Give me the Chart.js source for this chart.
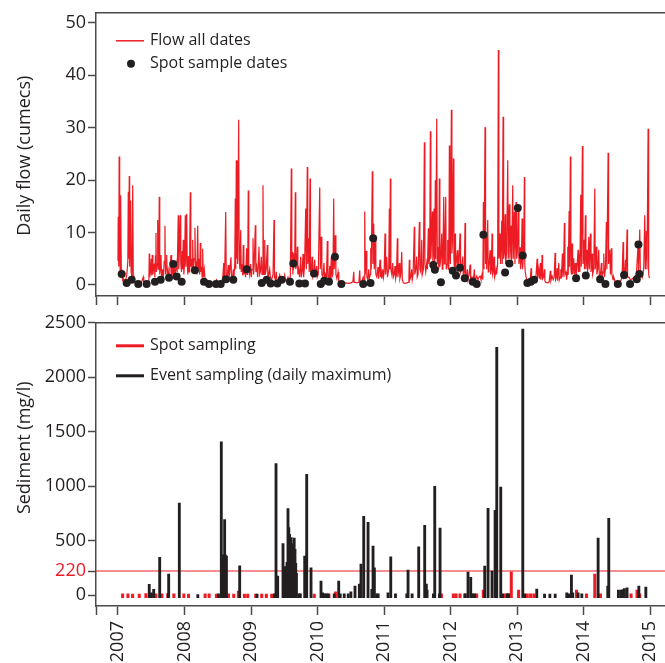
<!DOCTYPE html>
<html>
<head>
<meta charset="utf-8">
<script src="https://cdn.jsdelivr.net/npm/chart.js@4.4.1/dist/chart.umd.min.js"></script>
<style>
  html, body { margin: 0; padding: 0; background: #fff; }
  #wrap { position: relative; width: 665px; height: 663px; }
  canvas { position: absolute; left: 0; }
  #flowChart { top: 0; }
  #sedChart { top: 310px; }
</style>
</head>
<body>
<div id="wrap">
  <canvas id="flowChart" width="665" height="310"></canvas>
  <canvas id="sedChart" width="665" height="353"></canvas>
</div>
<script>
// ---- data ----
const yearTicks = [2007, 2008, 2009, 2010, 2011, 2012, 2013, 2014, 2015];
const flowTicks = [0, 10, 20, 30, 40, 50];
const sedimentTicks = [0, 220, 500, 1000, 1500, 2000, 2500];
const guideline = 220;

// daily flow (cumecs), [decimal year, flow]
const flowSeries = [
  [2007.000,4.6],[2007.004,13],[2007.012,3.5],[2007.018,24.5],[2007.026,8],[2007.033,2.5],[2007.041,17.1],[2007.050,3],
  [2007.058,1.8],[2007.070,0.9],[2007.085,1.2],[2007.100,0.8],[2007.118,1],[2007.135,2.2],[2007.148,4.5],[2007.155,17.8],
  [2007.160,5],[2007.170,20.8],[2007.176,3.5],[2007.184,10],[2007.191,16.1],[2007.198,2.5],[2007.210,1.5],[2007.222,19],
  [2007.230,1.8],[2007.240,0.8],[2007.260,0.5],[2007.290,0.4],[2007.320,0.3],[2007.350,0.4],[2007.380,1.5],[2007.388,0.4],
  [2007.420,0.3],[2007.455,0.6],[2007.465,1],[2007.470,6],[2007.477,1.5],[2007.490,2.5],[2007.500,5],[2007.508,1.8],
  [2007.515,5.7],[2007.525,2],[2007.535,3],[2007.546,4.1],[2007.555,1.5],[2007.563,5.5],[2007.571,9.9],[2007.578,2.5],
  [2007.587,4],[2007.597,12.4],[2007.605,3],[2007.613,6],[2007.621,16.8],[2007.628,2],[2007.638,3.5],[2007.646,5.7],
  [2007.655,1.5],[2007.668,3],[2007.680,1.2],[2007.695,4.5],[2007.706,11.3],[2007.714,2],[2007.722,3.5],[2007.732,5.7],
  [2007.742,1.5],[2007.755,2.8],[2007.768,1.4],[2007.780,3],[2007.797,5.7],[2007.806,1.8],[2007.815,2.5],[2007.822,4],
  [2007.832,1.5],[2007.845,3.5],[2007.860,2],[2007.875,4],[2007.890,2.5],[2007.906,13.3],[2007.913,3],[2007.922,6],
  [2007.936,13.3],[2007.944,4],[2007.955,2.5],[2007.965,6.5],[2007.972,3],[2007.981,8.6],[2007.990,2],[2008.000,4],
  [2008.012,13.3],[2008.020,3.5],[2008.033,13.6],[2008.041,4],[2008.050,2],[2008.060,5.5],[2008.070,2.5],[2008.078,7],
  [2008.087,17.7],[2008.095,3.5],[2008.105,5],[2008.115,2.5],[2008.123,8.6],[2008.132,3],[2008.145,5],[2008.157,10.9],
  [2008.165,3],[2008.175,4.5],[2008.185,2],[2008.198,11.3],[2008.207,3],[2008.218,5],[2008.228,2],[2008.237,8],
  [2008.246,2.5],[2008.255,3.5],[2008.265,1.5],[2008.273,6.9],[2008.282,1.5],[2008.297,3],[2008.310,0.8],[2008.330,0.4],
  [2008.360,0.3],[2008.400,0.4],[2008.430,0.3],[2008.460,0.5],[2008.480,1],[2008.500,0.3],[2008.530,0.4],[2008.560,0.6],
  [2008.575,1.5],[2008.589,4.2],[2008.597,1.2],[2008.605,3],[2008.619,13.9],[2008.627,2],[2008.640,1.5],[2008.658,3.8],
  [2008.668,1.2],[2008.680,2.5],[2008.698,5.3],[2008.706,1.5],[2008.718,1],[2008.733,3],[2008.742,1.2],[2008.755,4],
  [2008.763,16.5],[2008.770,3],[2008.778,23.8],[2008.786,5],[2008.790,23.7],[2008.798,4],[2008.814,31.5],[2008.822,5],
  [2008.832,3],[2008.844,10.5],[2008.852,2.5],[2008.865,4],[2008.875,1.8],[2008.883,7.6],[2008.892,2],[2008.905,3],
  [2008.918,1.5],[2008.934,7],[2008.942,2],[2008.950,4],[2008.958,18],[2008.966,3.5],[2008.980,2],[2008.994,4],
  [2009.004,1.5],[2009.015,3],[2009.029,8.9],[2009.038,2],[2009.048,4],[2009.064,11.4],[2009.072,2.5],[2009.085,3.5],
  [2009.100,1.5],[2009.119,7.3],[2009.128,2],[2009.140,2.5],[2009.154,5.4],[2009.165,2],[2009.179,19],[2009.187,3.5],
  [2009.195,2],[2009.205,8.6],[2009.214,2],[2009.228,3],[2009.244,7.6],[2009.252,1.5],[2009.265,2],[2009.280,3],
  [2009.290,1.5],[2009.310,1],[2009.330,2],[2009.345,12.4],[2009.352,1.5],[2009.365,1],[2009.379,2.5],[2009.390,0.8],
  [2009.410,1],[2009.430,1.9],[2009.445,0.8],[2009.470,1.2],[2009.490,0.8],[2009.505,1.9],[2009.520,0.8],[2009.540,1],
  [2009.555,1.5],[2009.570,0.8],[2009.590,1.5],[2009.605,22.2],[2009.612,4],[2009.620,6.3],[2009.628,2],[2009.636,6],
  [2009.645,3.5],[2009.655,4],[2009.665,17.7],[2009.672,3],[2009.685,4],[2009.695,7.3],[2009.703,2],[2009.715,3],
  [2009.730,1.5],[2009.746,5.4],[2009.755,1.5],[2009.768,2.5],[2009.781,5.9],[2009.790,1.5],[2009.805,4],[2009.821,14.6],
  [2009.830,3],[2009.845,22.5],[2009.852,4],[2009.866,8.9],[2009.874,2.5],[2009.886,20.3],[2009.893,3],[2009.905,2],
  [2009.916,5.4],[2009.926,1.5],[2009.940,2],[2009.956,4.8],[2009.965,1.5],[2009.986,3.6],[2009.995,1.5],[2010.010,2],
  [2010.032,18.6],[2010.040,3],[2010.056,9.2],[2010.064,2],[2010.080,1.5],[2010.096,4.2],[2010.105,1.2],[2010.120,2],
  [2010.132,1],[2010.146,8.4],[2010.155,1.5],[2010.170,1],[2010.182,3.6],[2010.192,1.2],[2010.206,5.4],[2010.215,1.5],
  [2010.230,2],[2010.242,16.5],[2010.250,3],[2010.266,9.5],[2010.275,2],[2010.290,1.2],[2010.307,2.5],[2010.318,0.8],
  [2010.340,0.4],[2010.380,0.3],[2010.420,0.4],[2010.460,0.3],[2010.500,0.4],[2010.530,0.6],[2010.543,2.5],[2010.550,0.5],
  [2010.590,0.4],[2010.620,0.5],[2010.633,2.8],[2010.640,0.5],[2010.665,0.6],[2010.685,1.5],[2010.700,0.8],[2010.708,14],
  [2010.716,2],[2010.732,6.5],[2010.740,1.5],[2010.755,1],[2010.768,3],[2010.778,1.2],[2010.790,2],[2010.798,7],
  [2010.806,3],[2010.822,21.7],[2010.830,4],[2010.843,11.7],[2010.851,3],[2010.867,8.6],[2010.875,2],[2010.890,1.5],
  [2010.908,3.4],[2010.918,1.2],[2010.938,4.8],[2010.947,1.5],[2010.958,2.5],[2010.966,1.2],[2010.980,3],[2010.990,1.5],
  [2011.000,2.5],[2011.013,9.8],[2011.022,2],[2011.039,5.4],[2011.050,1.5],[2011.068,3],[2011.078,14.6],[2011.085,3],
  [2011.093,20.3],[2011.101,3],[2011.115,2],[2011.129,4.2],[2011.138,1.5],[2011.150,2],[2011.163,3.6],[2011.172,1.2],
  [2011.185,2],[2011.198,8.9],[2011.206,1.5],[2011.215,2.5],[2011.228,4.2],[2011.236,1.2],[2011.250,2],[2011.264,6.3],
  [2011.273,1],[2011.288,0.4],[2011.310,0.3],[2011.340,0.4],[2011.363,0.5],[2011.372,1.5],[2011.378,4.8],[2011.386,1],
  [2011.400,1.5],[2011.414,3],[2011.422,1],[2011.435,2],[2011.453,11.1],[2011.460,2],[2011.475,3],[2011.489,5.4],
  [2011.497,1.5],[2011.510,2],[2011.529,12],[2011.537,3],[2011.550,2.5],[2011.565,8.6],[2011.573,2],[2011.590,3],
  [2011.604,27.2],[2011.612,4],[2011.625,2.5],[2011.640,4.2],[2011.650,3],[2011.664,10.8],[2011.672,4],[2011.685,5],
  [2011.694,29.3],[2011.702,5],[2011.710,8],[2011.724,14],[2011.732,4],[2011.740,6],[2011.750,14.6],[2011.758,4],
  [2011.769,20],[2011.775,5],[2011.790,31.7],[2011.798,4],[2011.814,7.2],[2011.821,3],[2011.829,20.3],[2011.837,3.5],
  [2011.850,5],[2011.865,9.8],[2011.873,3],[2011.883,5],[2011.895,16.8],[2011.903,4],[2011.912,6],[2011.925,16.8],
  [2011.933,3],[2011.945,4],[2011.955,8.6],[2011.963,3],[2011.972,5],[2011.980,26.6],[2011.987,6],[2011.996,4],
  [2012.010,33.4],[2012.018,6],[2012.025,8],[2012.040,24.1],[2012.048,5],[2012.056,3],[2012.065,9.8],[2012.073,3],
  [2012.085,4.5],[2012.100,6.6],[2012.108,2.5],[2012.120,3.5],[2012.140,9.8],[2012.148,2.5],[2012.160,3],[2012.181,5.4],
  [2012.190,1.5],[2012.205,2.5],[2012.215,11.8],[2012.223,2],[2012.235,1.5],[2012.250,3],[2012.260,1],[2012.275,2],
  [2012.291,3.9],[2012.300,1],[2012.320,1.5],[2012.340,0.8],[2012.355,3],[2012.365,0.8],[2012.378,1.2],[2012.391,1.7],
  [2012.410,1],[2012.425,1.5],[2012.441,1.7],[2012.455,1],[2012.470,2],[2012.483,1],[2012.491,15.8],[2012.500,3],
  [2012.516,30.1],[2012.524,4],[2012.531,9.8],[2012.540,3],[2012.556,12.4],[2012.564,2.5],[2012.575,3.5],[2012.591,6.6],
  [2012.600,2],[2012.612,3],[2012.621,9.8],[2012.630,2],[2012.640,2.5],[2012.651,5.4],[2012.660,1.5],[2012.670,2],
  [2012.681,3],[2012.690,2],[2012.705,4],[2012.716,44.8],[2012.724,5],[2012.735,6],[2012.741,9.8],[2012.750,4],
  [2012.767,12.3],[2012.775,4],[2012.787,32.1],[2012.795,5],[2012.805,6],[2012.817,13.5],[2012.825,4],[2012.840,6],
  [2012.857,23.8],[2012.865,5],[2012.881,15.4],[2012.890,5],[2012.907,11.3],[2012.915,4],[2012.932,19],[2012.940,5],
  [2012.956,14],[2012.965,4],[2012.982,15.8],[2012.990,5],[2013.000,6],[2013.017,14.3],[2013.025,4],[2013.042,7.2],
  [2013.050,3],[2013.062,4.5],[2013.072,12.7],[2013.077,5.4],[2013.085,3],[2013.098,7],[2013.107,20.6],[2013.113,4],
  [2013.120,2.5],[2013.132,1.5],[2013.150,0.8],[2013.175,0.6],[2013.195,1],[2013.207,3.2],[2013.215,0.8],[2013.230,0.6],
  [2013.248,1.3],[2013.260,0.8],[2013.280,1.5],[2013.298,5],[2013.306,1.2],[2013.323,3],[2013.335,1.2],[2013.347,4.2],
  [2013.355,1],[2013.365,2],[2013.373,5.7],[2013.381,1.2],[2013.395,1.5],[2013.407,3],[2013.415,0.8],[2013.430,0.5],
  [2013.460,0.4],[2013.480,0.6],[2013.497,2.7],[2013.505,0.8],[2013.523,1.7],[2013.540,1],[2013.555,1.5],[2013.568,6.1],
  [2013.576,1],[2013.590,1.5],[2013.598,3.2],[2013.606,0.8],[2013.624,4.2],[2013.632,1],[2013.645,1.5],[2013.654,3],
  [2013.662,1.2],[2013.678,6],[2013.686,1.5],[2013.695,2.5],[2013.708,11.8],[2013.716,2],[2013.733,2.5],[2013.742,1],
  [2013.750,2],[2013.759,7.3],[2013.766,2],[2013.779,14.1],[2013.785,3.5],[2013.798,24.5],[2013.806,3],[2013.815,2],
  [2013.824,7.9],[2013.832,2],[2013.849,5.1],[2013.857,2],[2013.873,4.2],[2013.882,1.5],[2013.895,3],[2013.914,6.7],
  [2013.920,2.5],[2013.933,6],[2013.940,2.5],[2013.954,17.2],[2013.962,3.5],[2013.979,26.5],[2013.987,4],[2014.000,8.6],
  [2014.010,3],[2014.024,13.3],[2014.032,3],[2014.049,6.7],[2014.057,2.5],[2014.075,9.2],[2014.082,3],[2014.099,9.8],
  [2014.108,2.5],[2014.124,6],[2014.132,2],[2014.150,3],[2014.165,18.4],[2014.172,3],[2014.189,7.3],[2014.197,2],
  [2014.210,3],[2014.225,6.7],[2014.233,1.5],[2014.250,2],[2014.264,4.2],[2014.272,1.5],[2014.290,2.5],[2014.300,6],
  [2014.310,1.5],[2014.325,3],[2014.339,12],[2014.347,3],[2014.365,25.2],[2014.373,4],[2014.390,6.7],[2014.400,2],
  [2014.414,7],[2014.422,2],[2014.440,1],[2014.450,1.5],[2014.470,0.6],[2014.500,0.5],[2014.530,0.6],[2014.555,0.8],
  [2014.575,1.5],[2014.590,8.2],[2014.598,1.5],[2014.612,2],[2014.625,4.8],[2014.633,1.2],[2014.650,10.6],[2014.657,1.5],
  [2014.676,1.5],[2014.700,1],[2014.730,1.2],[2014.760,1.5],[2014.790,2],[2014.816,7.9],[2014.822,2.5],[2014.841,10.6],
  [2014.850,2],[2014.865,2.2],[2014.880,1.5],[2014.900,3],[2014.916,13.3],[2014.925,3],[2014.940,10.3],[2014.950,3],
  [2014.966,29.8],[2014.975,2],[2014.986,1.3]
];

// flow on spot sample dates, [decimal year, flow]
const spotSamples = [
  [2007.056,2.1],[2007.131,0.4],[2007.206,1.0],[2007.305,0.2],[2007.431,0.2],[2007.556,0.6],[2007.642,1.0],[2007.767,1.4],
  [2007.831,4.0],[2007.882,1.6],[2007.957,0.6],[2008.157,2.8],[2008.293,0.6],[2008.368,0.2],[2008.473,0.2],[2008.544,0.2],
  [2008.623,1.1],[2008.733,1.0],[2008.934,3.0],[2009.160,0.4],[2009.235,1.0],[2009.295,0.3],[2009.395,0.3],[2009.460,1.0],
  [2009.585,0.6],[2009.635,4.1],[2009.725,0.3],[2009.811,0.3],[2009.946,2.2],[2010.047,0.2],[2010.100,0.8],[2010.171,0.6],
  [2010.261,5.4],[2010.357,0.2],[2010.685,0.2],[2010.795,0.4],[2010.835,8.9],[2011.739,3.8],[2011.762,2.9],[2011.853,0.5],
  [2012.031,2.7],[2012.080,1.8],[2012.140,3.3],[2012.211,1.3],[2012.331,0.6],[2012.391,0.2],[2012.491,9.6],[2012.817,2.4],
  [2012.882,4.1],[2013.008,14.7],[2013.083,5.6],[2013.152,0.4],[2013.203,0.6],[2013.253,1.0],[2013.884,1.3],[2014.030,1.8],
  [2014.245,1.1],[2014.325,0.2],[2014.511,0.2],[2014.605,1.9],[2014.695,0.2],[2014.796,1.1],[2014.821,7.7],[2014.836,2.1]
];

// sediment, spot sampling (mg/l), [decimal year, value]
const spotSediment = [
  [2007.07,10],[2007.15,10],[2007.22,8],[2007.32,8],[2007.42,12],[2007.50,8],[2007.57,10],[2007.66,10],[2007.75,12],
  [2007.84,10],[2007.99,10],[2008.06,8],[2008.31,10],[2008.37,10],[2008.48,8],[2008.57,8],[2008.66,10],[2008.74,8],
  [2008.81,35],[2008.90,8],[2008.95,8],[2009.07,8],[2009.16,8],[2009.23,8],[2009.31,8],[2009.39,8],[2009.73,8],
  [2009.95,8],[2010.11,8],[2010.17,8],[2010.27,30],[2011.86,10],[2012.04,10],[2012.08,10],[2012.14,10],[2012.21,10],
  [2012.33,10],[2012.39,10],[2012.49,46],[2012.82,10],[2012.86,10],[2012.91,213],[2013.02,46],[2013.15,10],[2013.20,10],
  [2013.25,10],[2013.89,46],[2014.04,10],[2014.165,192],[2014.25,10],[2014.71,10],[2014.80,46],[2014.84,10]
];

// sediment, event sampling daily maximum (mg/l), [decimal year, value]
const eventSediment = [
  [2007.47,98],[2007.50,20],[2007.537,52],[2007.627,345],[2007.755,10],[2007.762,192],[2007.922,845],[2008.20,5],
  [2008.51,10],[2008.553,1407],[2008.565,366],[2008.578,366],[2008.590,366],[2008.603,693],[2008.615,366],[2008.630,357],
  [2008.829,268],[2009.09,8],[2009.35,10],[2009.375,1206],[2009.400,174],[2009.480,473],[2009.495,150],[2009.510,260],
  [2009.525,192],[2009.540,300],[2009.555,794],[2009.567,620],[2009.578,558],[2009.590,480],[2009.602,528],[2009.614,420],
  [2009.626,473],[2009.638,380],[2009.648,522],[2009.660,420],[2009.671,290],[2009.682,200],[2009.72,10],[2009.74,10],
  [2009.806,357],[2009.836,1108],[2009.901,250],[2010.051,128],[2010.075,21],[2010.10,10],[2010.13,10],[2010.16,10],
  [2010.25,10],[2010.317,128],[2010.34,10],[2010.40,10],[2010.46,10],[2010.50,30],[2010.562,82],[2010.627,100],
  [2010.652,284],[2010.693,723],[2010.758,668],[2010.815,52],[2010.833,449],[2010.853,250],[2010.89,10],[2010.91,10],
  [2011.058,20],[2011.099,351],[2011.17,10],[2011.34,10],[2011.359,229],[2011.42,10],[2011.519,443],[2011.609,641],
  [2011.634,100],[2011.645,45],[2011.74,10],[2011.76,998],[2011.83,10],[2011.840,614],[2012.22,10],[2012.260,211],
  [2012.301,162],[2012.32,10],[2012.36,10],[2012.511,266],[2012.561,797],[2012.621,220],[2012.667,778],[2012.680,778],
  [2012.692,2274],[2012.752,992],[2012.78,10],[2012.85,10],[2012.87,10],[2013.083,2442],[2013.11,10],[2013.293,55],
  [2013.41,8],[2013.49,8],[2013.57,8],[2013.744,20],[2013.78,10],[2013.814,183],[2013.834,20],[2013.914,20],
  [2013.97,10],[2014.215,522],[2014.36,82],[2014.375,705],[2014.52,45],[2014.56,45],[2014.59,50],[2014.61,60],
  [2014.65,65],[2014.827,82],[2014.932,73]
];

// ---- styling ----
const RED = '#ed1c24';
const INK = '#231f20';
const AXIS = '#4a4a4a';
const FONT = "'Open Sans', sans-serif";
const X_MIN = 2006.67;
const X_MAX = 2015.22;
const BAR_BASE = -25;

Chart.defaults.font.family = FONT;
Chart.defaults.color = INK;

const toPoints = arr => arr.map(([x, y]) => ({ x, y }));

// frame top line, rotated axis title and an in-plot legend
const decorations = {
  id: 'decorations',
  afterDraw(chart, args, opts) {
    const { ctx, chartArea: a } = chart;
    ctx.save();
    ctx.strokeStyle = AXIS;
    ctx.lineWidth = 1.5;
    ctx.beginPath();
    ctx.moveTo(a.left, a.top);
    ctx.lineTo(a.right + 2, a.top);
    ctx.stroke();

    ctx.fillStyle = INK;
    ctx.font = `18px ${FONT}`;
    ctx.textAlign = 'center';
    ctx.textBaseline = 'middle';
    ctx.save();
    ctx.translate(opts.titleX, a.top + opts.titleOffset);
    ctx.rotate(-Math.PI / 2);
    ctx.fillText(opts.title, 0, 0);
    ctx.restore();

    ctx.font = `16px ${FONT}`;
    ctx.textAlign = 'left';
    opts.legend.forEach((item, i) => {
      const y = a.top + opts.legendTop + i * opts.legendStep;
      if (item.kind === 'dot') {
        ctx.fillStyle = item.color;
        ctx.beginPath();
        ctx.arc(a.left + 35, y, 4, 0, Math.PI * 2);
        ctx.fill();
      } else {
        ctx.strokeStyle = item.color;
        ctx.lineWidth = item.width;
        ctx.beginPath();
        ctx.moveTo(a.left + 20, y);
        ctx.lineTo(a.left + 48, y);
        ctx.stroke();
      }
      ctx.fillStyle = INK;
      ctx.fillText(item.label, a.left + 54, y);
    });
    ctx.restore();
  }
};

function yAxis(min, max, ticks, colorFn) {
  return {
    type: 'linear',
    min, max,
    afterBuildTicks: s => { s.ticks = ticks.map(v => ({ value: v })); },
    afterFit: s => { s.width = 96; },
    ticks: { font: { size: 18 }, padding: 2, color: colorFn || INK, callback: v => String(v) },
    grid: { drawOnChartArea: false, drawTicks: true, tickLength: 8, tickColor: AXIS, tickWidth: 1.5 },
    border: { display: true, color: AXIS, width: 1.5 }
  };
}

function xAxis(showLabels, height) {
  return {
    type: 'linear',
    min: X_MIN, max: X_MAX,
    offset: false,
    afterBuildTicks: s => { s.ticks = [X_MIN, ...yearTicks].map(v => ({ value: v })); },
    afterFit: s => { s.height = height; s.paddingLeft = 0; s.paddingRight = 0; },
    ticks: {
      display: showLabels, autoSkip: false, minRotation: 90, maxRotation: 90, padding: 6,
      font: { size: 18 },
      callback: v => (yearTicks.includes(v) ? String(v) : '')
    },
    grid: { offset: false, drawOnChartArea: false, drawTicks: true, tickLength: 9, tickColor: AXIS, tickWidth: 1.5 },
    border: { display: true, color: AXIS, width: 1.5 }
  };
}

const common = {
  responsive: false,
  animation: false,
  events: [],
  layout: { autoPadding: false, padding: { top: 12, left: 0, right: 0, bottom: 0 } },
  plugins: { legend: { display: false }, tooltip: { enabled: false } }
};

new Chart(document.getElementById('flowChart'), {
  type: 'line',
  data: {
    datasets: [
      {
        type: 'scatter', label: 'Spot sample dates', data: toPoints(spotSamples),
        pointRadius: 4, pointBackgroundColor: INK, pointBorderWidth: 0, clip: 6
      },
      {
        type: 'line', label: 'Flow all dates', data: toPoints(flowSeries),
        borderColor: RED, borderWidth: 1.2, pointRadius: 0, tension: 0
      }
    ]
  },
  options: {
    ...common,
    scales: { x: xAxis(false, 14), y: yAxis(-2.1, 51.9, flowTicks) },
    plugins: {
      ...common.plugins,
      decorations: {
        title: 'Daily flow (cumecs)', titleX: 25, titleOffset: 143,
        legendTop: 28, legendStep: 23,
        legend: [
          { kind: 'line', color: RED, width: 1.5, label: 'Flow all dates' },
          { kind: 'dot', color: INK, label: 'Spot sample dates' }
        ]
      }
    }
  },
  plugins: [decorations]
});

new Chart(document.getElementById('sedChart'), {
  type: 'bar',
  data: {
    datasets: [
      {
        type: 'bar', label: 'Event sampling (daily maximum)', data: toPoints(eventSediment),
        backgroundColor: INK, barThickness: 2.2, grouped: false, base: BAR_BASE
      },
      {
        type: 'bar', label: 'Spot sampling', data: toPoints(spotSediment),
        backgroundColor: RED, barThickness: 2.4, grouped: false, base: BAR_BASE
      },
      {
        type: 'line', label: 'threshold', data: toPoints([[X_MIN, guideline], [X_MAX, guideline]]),
        borderColor: 'rgba(237,28,36,0.5)', borderWidth: 2, pointRadius: 0
      }
    ]
  },
  options: {
    ...common,
    scales: {
      x: xAxis(true, 57),
      y: yAxis(-101, 2500, sedimentTicks, c => (c.tick && c.tick.value === guideline ? RED : INK))
    },
    plugins: {
      ...common.plugins,
      decorations: {
        title: 'Sediment (mg/l)', titleX: 25, titleOffset: 125,
        legendTop: 23, legendStep: 30,
        legend: [
          { kind: 'line', color: RED, width: 3, label: 'Spot sampling' },
          { kind: 'line', color: INK, width: 3, label: 'Event sampling (daily maximum)' }
        ]
      }
    }
  },
  plugins: [decorations]
});
</script>
</body>
</html>
